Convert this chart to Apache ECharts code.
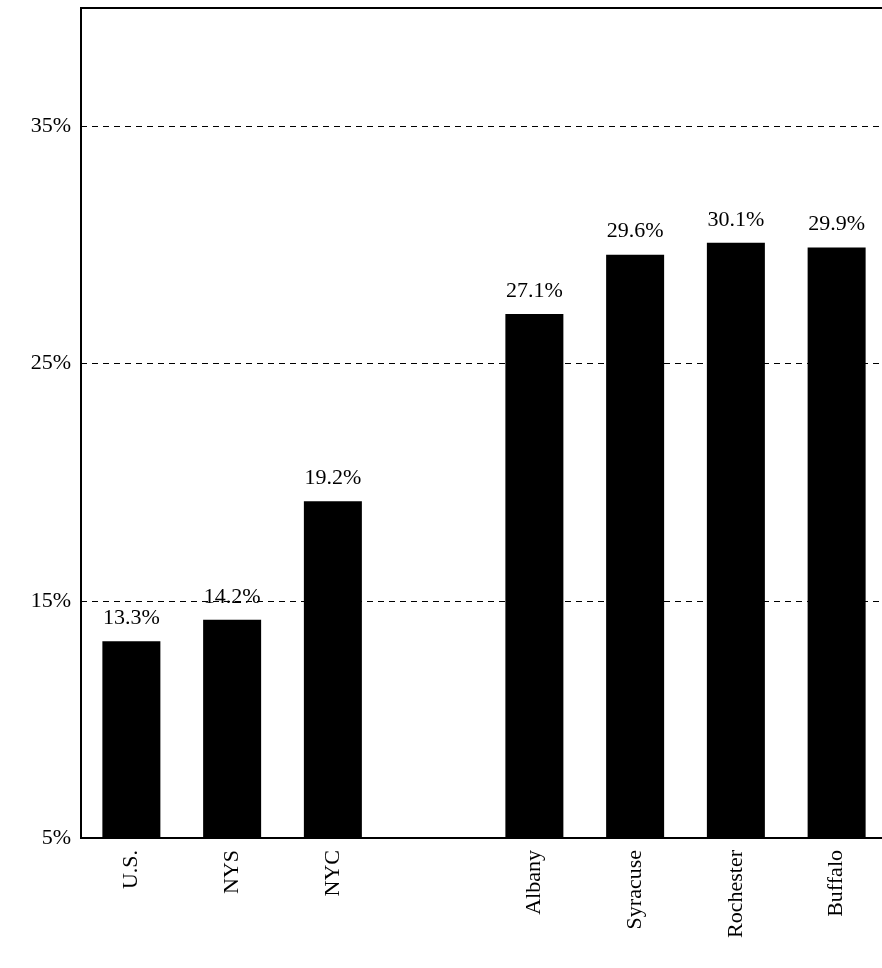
<!DOCTYPE html>
<html>
<head>
<meta charset="utf-8">
<script src="https://cdn.jsdelivr.net/npm/echarts@6/dist/echarts.min.js"></script>
<style>html,body{margin:0;padding:0;background:#fff;overflow:hidden}#chart{width:888px;height:968px}</style>
</head>
<body>
<div id="chart"></div>
<script>
var categories = ["U.S.", "NYS", "NYC", "", "Albany", "Syracuse", "Rochester", "Buffalo"];
var values = [13.3, 14.2, 19.2, "-", 27.1, 29.6, 30.1, 29.9];
var yTicks = [5, 15, 25, 35];

var chart = echarts.init(document.getElementById("chart"));
var font = "'Liberation Serif', 'Times New Roman', serif";
chart.setOption({
  animation: false,
  grid: { left: 81, right: 1, top: 8, bottom: 130, show: true, borderColor: "#000", borderWidth: 2 },
  xAxis: {
    type: "category",
    data: categories,
    axisLine: { lineStyle: { color: "#000", width: 2 } },
    axisTick: { show: false },
    axisLabel: { rotate: 90, color: "#000", fontFamily: font, fontSize: 22, margin: 12, interval: 0 }
  },
  yAxis: {
    type: "value",
    min: 5, max: 40, interval: 10,
    axisLine: { show: true, lineStyle: { color: "#000", width: 2 } },
    axisTick: { show: false },
    splitLine: { lineStyle: { color: "#000", type: [6, 5], width: 1 } },
    axisLabel: {
      color: "#000", fontFamily: font, fontSize: 22, margin: 10,
      formatter: function (v) { return yTicks.indexOf(v) >= 0 ? v + "%" : ""; }
    }
  },
  series: [{
    type: "bar",
    data: values,
    barWidth: 58,
    itemStyle: { color: "#000" },
    label: {
      show: true, position: "top", distance: 12, color: "#000",
      fontFamily: font, fontSize: 22,
      formatter: function (p) { return p.value.toFixed(1) + "%"; }
    }
  }]
});
</script>
</body>
</html>
